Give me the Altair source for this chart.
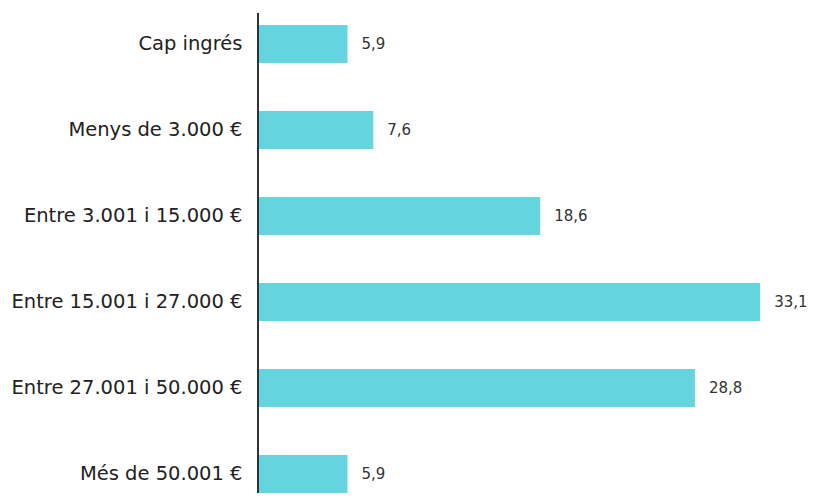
import altair as alt
import pandas as pd

categories = [
    "Cap ingrés",
    "Menys de 3.000 €",
    "Entre 3.001 i 15.000 €",
    "Entre 15.001 i 27.000 €",
    "Entre 27.001 i 50.000 €",
    "Més de 50.001 €",
]
values = [5.9, 7.6, 18.6, 33.1, 28.8, 5.9]
labels = ["5,9", "7,6", "18,6", "33,1", "28,8", "5,9"]

df = pd.DataFrame({"cat": categories, "val": values, "lab": labels})

LEFT = 250
W = 801 - LEFT
H = 480
FONT = "DejaVu Sans"

y = alt.Y(
    "cat:N",
    sort=categories,
    scale=alt.Scale(range=[-12, 504], paddingInner=0.558, paddingOuter=0.279),
    axis=alt.Axis(
        title=None, domain=False, ticks=False, labelPadding=16,
        labelFontSize=19.5, labelFont=FONT, labelColor="#222222",
        labelLimit=300,
    ),
)
x = alt.X(
    "val:Q",
    scale=alt.Scale(domain=[0, W / 15.17], nice=False),
    axis=None,
)

bars = alt.Chart(df).mark_bar(color="#64D5DF").encode(x=x, y=y)
text = alt.Chart(df).mark_text(
    align="left", baseline="middle", dx=14, fontSize=15, font=FONT, color="#333333"
).encode(x=x, y=y, text="lab:N")
axis_line = alt.Chart(df).mark_rule(color="#333333", strokeWidth=1.2).encode(
    x=alt.value(0), y=alt.value(0), y2=alt.value(H)
)

chart = (
    alt.layer(bars, text, axis_line)
    .properties(
        width=W, height=H,
        autosize=alt.AutoSizeParams(type="none"),
        padding={"left": LEFT, "top": 5, "right": 0, "bottom": 0},
    )
    .configure_view(stroke=None)
)

chart.save("out.html", embed_options={"renderer": "svg", "actions": False})
